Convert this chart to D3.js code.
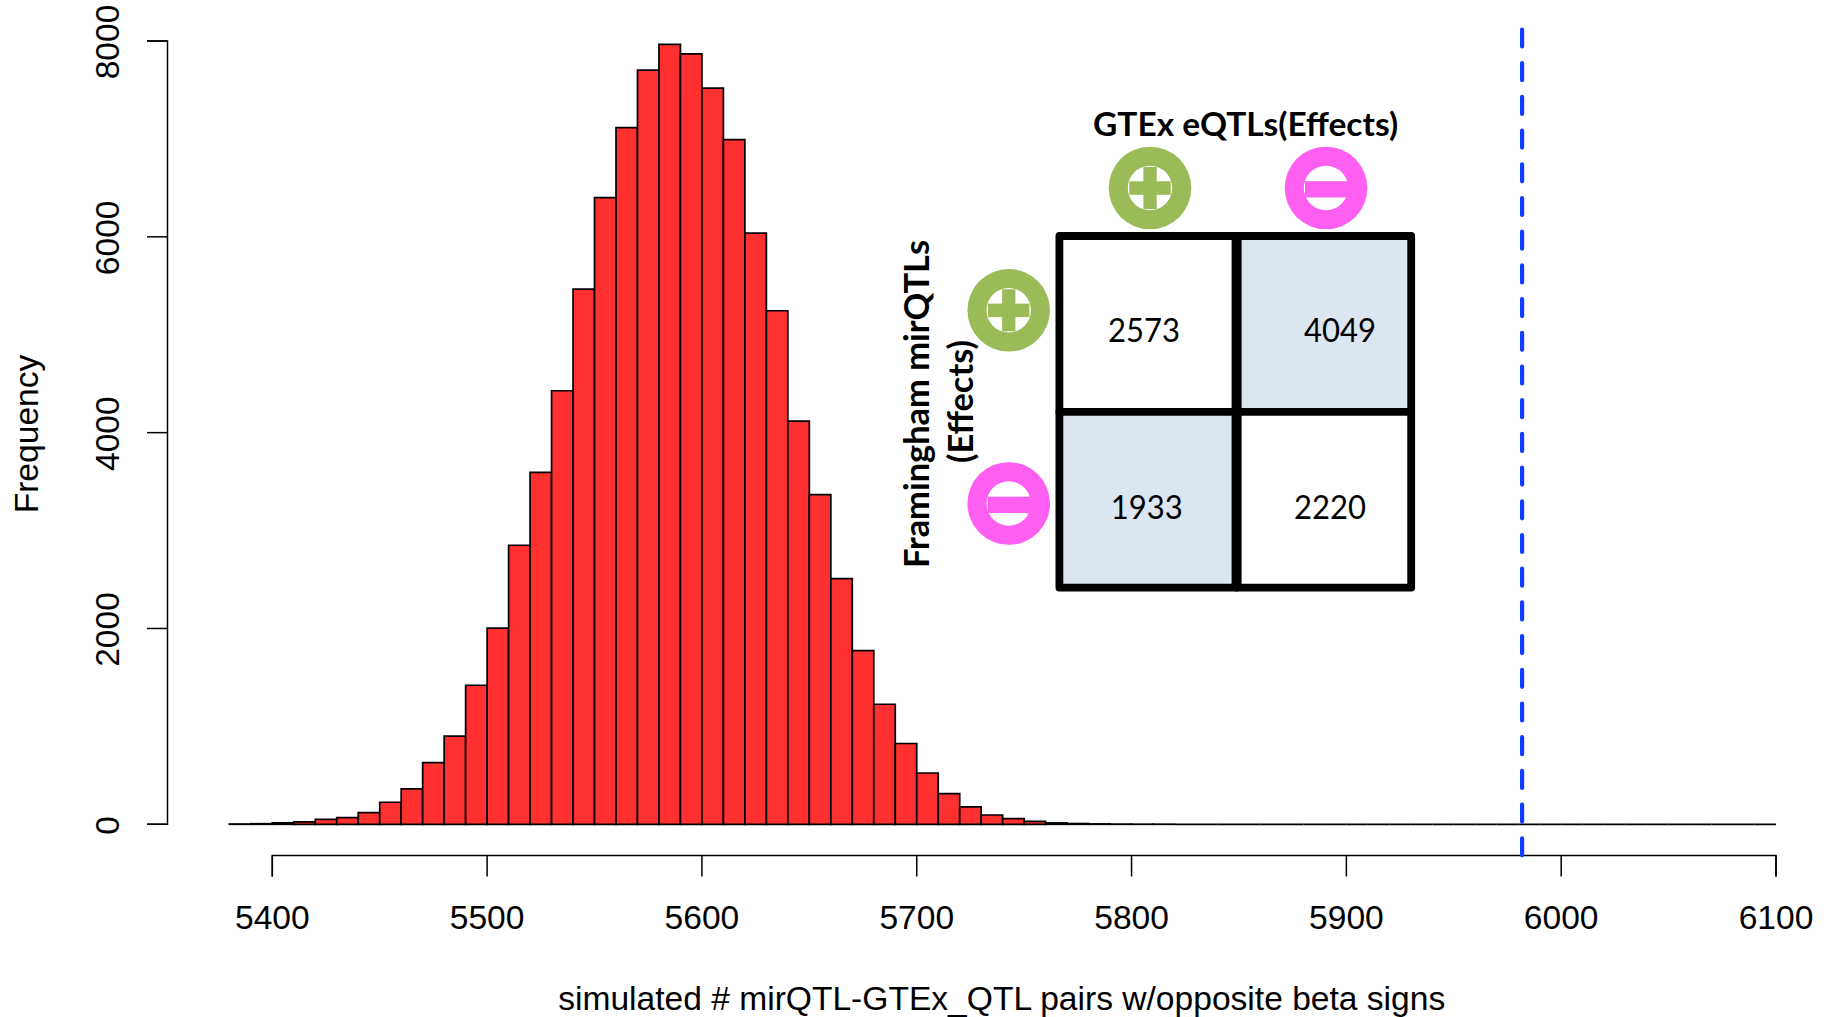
<!DOCTYPE html>
<html>
<head>
<meta charset="utf-8">
<title>simulated mirQTL-GTEx_QTL pairs</title>
<script src="https://cdn.jsdelivr.net/npm/d3@7"></script>
<style>
	html, body {margin:0; padding:0; background:#fff;}
	svg {display:block;}
	.axis text {font-family:"Liberation Sans",Arial,sans-serif; font-size:33.6px; fill:#000;}
	.label {font-family:"Liberation Sans",Arial,sans-serif; font-size:33.6px; fill:#000;}
	.inset {font-family:Lato,"Open Sans",sans-serif; fill:#000;}
</style>
</head>
<body>
<div id="chart"></div>
<script>
//histogram values, one count for each 10 wide bin
const binStart = 5380;
const binWidth = 10;
const counts = [3,6,15,25,50,68,120,225,361,630,900,1420,2003,2850,3595,4428,5466,6400,7116,7702,7965,7869,7518,6993,6037,5245,4117,3368,2510,1773,1226,825,524,313,177,95,58,30,14,8,4,2,1,1,
	0,0,0,0,0,0,0,0,0,0,0,0,0,0,0,0,0,0,0,0,0,0,0,0,0,0,0,0];
const observed = 5981.8;
const xTicks = [5400,5500,5600,5700,5800,5900,6000,6100];
const yTicks = [0,2000,4000,6000,8000];

//inset table
const signs = ["+","-"];
const cellValues = [[2573,4049],[1933,2220]];
const cellShaded = [[false,true],[true,false]];
const cellNudge = [[[-4,18],[16,18]],[[-1.3,18.8],[6,18.8]]];

const width = 1828, height = 1017;

const svg = d3.select("#chart")
	.append("svg")
	.attr("width", width)
	.attr("height", height);

const xScale = d3.scaleLinear().domain([5400,6100]).range([272.3,1776]);
const yScale = d3.scaleLinear().domain([0,8000]).range([824.3,41]);

//bars, as paths because a rect of height 0 is not drawn and R still draws its line
svg.append("g")
	.selectAll("path")
	.data(counts)
	.enter()
	.append("path")
	.attr("d", function(d,i){
		const x0 = xScale(binStart+i*binWidth), x1 = xScale(binStart+(i+1)*binWidth);
		return `M${x0},${yScale(0)}V${yScale(d)}H${x1}V${yScale(0)}Z`;
	})
	.attr("fill", "#ff3030")
	.attr("stroke", "#000")
	.attr("stroke-width", 1.7);

//X axis
const xAxis = d3.axisBottom(xScale)
	.tickValues(xTicks)
	.tickFormat(d3.format("d"))
	.tickSizeOuter(0)
	.tickSize(21)
	.tickPadding(28.2)
	.offset(0);
const xG = svg.append("g")
	.attr("class","axis")
	.attr("transform","translate(0,855.5)")
	.call(xAxis);
xG.selectAll("path,line").attr("stroke","#000").attr("stroke-width",1.5);

//Y axis, labels turned like in R
const yAxis = d3.axisLeft(yScale)
	.tickValues(yTicks)
	.tickFormat(d3.format("d"))
	.tickSizeOuter(0)
	.tickSize(20.5)
	.offset(0);
const yG = svg.append("g")
	.attr("class","axis")
	.attr("transform","translate(167.5,0)")
	.call(yAxis);
yG.selectAll("path,line").attr("stroke","#000").attr("stroke-width",1.5);
yG.selectAll("text")
	.attr("transform","translate(-48.5,1) rotate(-90)")
	.attr("x",0)
	.attr("y",0)
	.attr("dy",0)
	.attr("text-anchor","middle");

//axis titles
svg.append("text")
	.attr("class","label")
	.attr("x",1001.7)
	.attr("y",1009.5)
	.attr("text-anchor","middle")
	.text("simulated # mirQTL-GTEx_QTL pairs w/opposite beta signs");
svg.append("text")
	.attr("class","label")
	.attr("transform","translate(37.5,434) rotate(-90)")
	.attr("text-anchor","middle")
	.text("Frequency");

//observed value
svg.append("line")
	.attr("x1",xScale(observed))
	.attr("x2",xScale(observed))
	.attr("y1",29.5)
	.attr("y2",855.5)
	.attr("stroke","#0f3cff")
	.attr("stroke-width",4.2)
	.attr("stroke-linecap","round")
	.attr("stroke-dasharray","17 16.7");

//inset grid
const inset = svg.append("g");
const colEdges = {"+":[1059.4,1236.6],"-":[1236.6,1411.2]};
const rowBand = d3.scaleBand().domain(signs).range([236,587.6]);

signs.forEach(function(r,ri){
	signs.forEach(function(c,ci){
		const x0 = colEdges[c][0], x1 = colEdges[c][1];
		inset.append("rect")
		.attr("x",x0)
		.attr("y",rowBand(r))
		.attr("width",x1-x0)
		.attr("height",rowBand.bandwidth())
		.attr("fill",cellShaded[ri][ci] ? "#dce6f1" : "#fff")
		.attr("stroke","#000")
		.attr("stroke-width",7.8)
		.attr("stroke-linejoin","round");
		inset.append("text")
		.attr("class","inset")
		.attr("x",(x0+x1)/2+cellNudge[ri][ci][0])
		.attr("y",rowBand(r)+rowBand.bandwidth()/2+cellNudge[ri][ci][1])
		.attr("text-anchor","middle")
		.attr("font-size",33)
		.attr("textLength",72)
		.attr("lengthAdjust","spacingAndGlyphs")
		.text(cellValues[ri][ci]);
	});
});
//the middle line is a bit thicker in the picture
inset.append("line")
	.attr("x1",colEdges["-"][0])
	.attr("x2",colEdges["-"][0])
	.attr("y1",rowBand("+"))
	.attr("y2",rowBand("-")+rowBand.bandwidth())
	.attr("stroke","#000")
	.attr("stroke-width",10);

//sign badges
const colPoint = d3.scalePoint().domain(signs).range([1150,1326]);
const rowPoint = d3.scalePoint().domain(signs).range([310.3,503.5]);

function badge(cx,cy,sign)
{
	const col = sign==="+" ? "#9bbb59" : "#ff5ff0";
	const g = inset.append("g").attr("transform",`translate(${cx},${cy})`);
	g.append("circle").attr("r",41.3).attr("fill",col);
	g.append("circle").attr("r",22.2).attr("fill","#fff");
	if (sign==="+")
	{
		g.append("rect").attr("x",-20.7).attr("y",-6.7).attr("width",41.4).attr("height",13.5).attr("fill",col);
		g.append("rect").attr("x",-6.6).attr("y",-21).attr("width",13.3).attr("height",42).attr("fill",col);
	}
	else
	{
		g.append("rect").attr("x",-21).attr("y",-6.8).attr("width",44).attr("height",16.3).attr("fill",col);
	}
}
signs.forEach((s)=> badge(colPoint(s),188,s));
signs.forEach((s)=> badge(1008.7,rowPoint(s),s));

//inset titles
inset.append("text")
	.attr("class","inset")
	.attr("x",1245.6)
	.attr("y",135.6)
	.attr("text-anchor","middle")
	.attr("font-size",32)
	.attr("font-weight",700)
	.attr("textLength",305)
	.attr("lengthAdjust","spacingAndGlyphs")
	.text("GTEx eQTLs(Effects)");
inset.append("text")
	.attr("class","inset")
	.attr("transform","translate(929,404) rotate(-90)")
	.attr("text-anchor","middle")
	.attr("font-size",34)
	.attr("font-weight",700)
	.attr("textLength",328)
	.attr("lengthAdjust","spacingAndGlyphs")
	.text("Framingham mirQTLs");
inset.append("text")
	.attr("class","inset")
	.attr("transform","translate(972.8,401.5) rotate(-90)")
	.attr("text-anchor","middle")
	.attr("font-size",34)
	.attr("font-weight",700)
	.attr("textLength",123)
	.attr("lengthAdjust","spacingAndGlyphs")
	.text("(Effects)");
</script>
</body>
</html>
